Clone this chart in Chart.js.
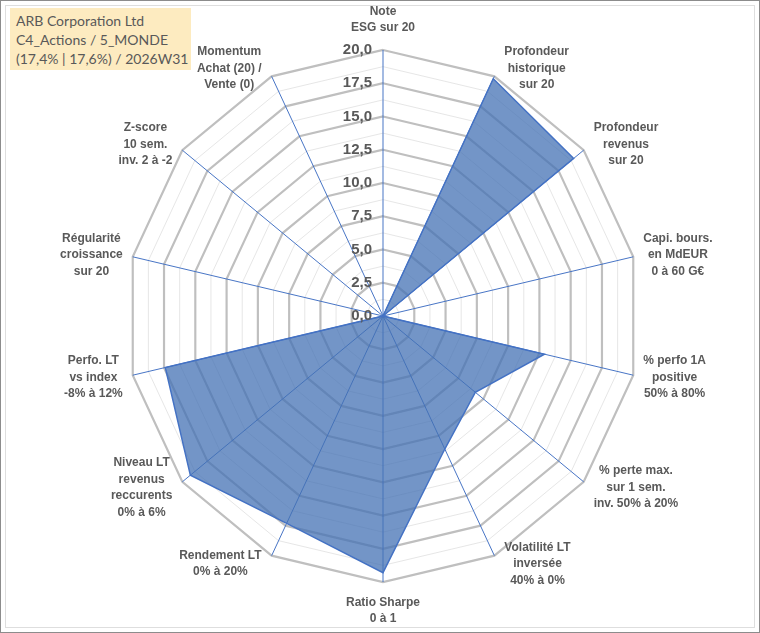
<!doctype html>
<html lang="fr">
<head>
  <meta charset="utf-8">
  <title>ARB Corporation Ltd - radar</title>
  <script src="https://cdn.jsdelivr.net/npm/chart.js"></script>
  <style>
    html, body { margin: 0; padding: 0; background: #fff; }
    #frame {
      position: relative; width: 758px; height: 631px;
      border: 1px solid #8c8c8c; background: #fff;
    }
    #inner {
      position: absolute; left: 4px; top: 4px; right: 4px; bottom: 4px;
      border: 1px solid #dedede;
    }
    #radarChart { position: absolute; left: -1px; top: -1px; }
    #titleBox {
      position: absolute; left: 9px; top: 7px; width: 181px; height: 62px;
      background: #fdebc0; color: #595959;
      font: 14px Lato, sans-serif; line-height: 19px;
      padding: 3px 0 0 6px; box-sizing: border-box; white-space: nowrap;
    }
  </style>
</head>
<body>
  <div id="frame">
    <div id="inner"></div>
    <canvas id="radarChart" width="760" height="633"></canvas>
    <div id="titleBox">ARB Corporation Ltd<br>C4_Actions / 5_MONDE<br>(17,4% | 17,6%) / 2026W31</div>
  </div>

  <script>
    // axes of the radar, clockwise from the top
    const axisLabels = [
      ['Note', 'ESG sur 20'],
      ['Profondeur', 'historique', 'sur 20'],
      ['Profondeur', 'revenus', 'sur 20'],
      ['Capi. bours.', 'en MdEUR', '0 à 60 G€'],
      ['% perfo 1A', 'positive', '50% à 80%'],
      ['% perte max.', 'sur 1 sem.', 'inv. 50% à 20%'],
      ['Volatilité LT', 'inversée', '40% à 0%'],
      ['Ratio Sharpe', '0 à 1'],
      ['Rendement LT', '0% à 20%'],
      ['Niveau LT', 'revenus', 'reccurents', '0% à 6%'],
      ['Perfo. LT', 'vs index', '-8% à 12%'],
      ['Régularité', 'croissance', 'sur 20'],
      ['Z-score', '10 sem.', 'inv. 2 à -2'],
      ['Momentum', 'Achat (20) /', 'Vente (0)']
    ];
    // scores (0..20)
    const scores = [0, 19.8, 19.0, 0, 12.9, 9.2, 11.1, 19.3, 17.3, 19.2, 17.4, 0, 0, 0];
    // labelled rings
    const tickValues = [0, 2.5, 5, 7.5, 10, 12.5, 15, 17.5, 20];

    const isMajor = v => tickValues.includes(v);
    const SQUEEZE_X = 0.965;   // the original radar is a touch narrower than tall
    const FONT = '"Liberation Sans", Arial, sans-serif';

    // squeeze the web + polygon horizontally around the centre
    const squeeze = {
      id: 'squeeze',
      beforeDraw(chart) {
        const r = chart.scales.r;
        const ctx = chart.ctx;
        ctx.save();
        ctx.translate(r.xCenter, 0);
        ctx.scale(SQUEEZE_X, 1);
        ctx.translate(-r.xCenter, 0);
      },
      afterDatasetsDraw(chart) {
        chart.ctx.restore();
      }
    };

    // ring values left of the vertical axis, axis names with centred lines
    const labelsPlugin = {
      id: 'labels',
      afterDatasetsDraw(chart) {
        const r = chart.scales.r;
        const ctx = chart.ctx;
        ctx.save();
        ctx.font = 'bold 15px ' + FONT;
        ctx.fillStyle = '#595959';
        ctx.textAlign = 'right';
        ctx.textBaseline = 'middle';
        tickValues.forEach(v => {
          const y = r.yCenter - r.getDistanceFromCenterForValue(v);
          ctx.fillText(v.toFixed(1).replace('.', ','), r.xCenter - 11, y);
        });

        ctx.font = 'bold 12px ' + FONT;
        ctx.textAlign = 'center';
        const lh = 16.5;
        const n = axisLabels.length;
        axisLabels.forEach((lines, i) => {
          const p = r.getPointPosition(i, r.drawingArea);
          const x = r.xCenter + (p.x - r.xCenter) * SQUEEZE_X;
          const deg = i * 360 / n;
          const w = Math.max(...lines.map(s => ctx.measureText(s).width));
          const h = lines.length * lh;
          let cx, top;
          if (deg === 0) {
            cx = x; top = p.y - 14 - h;
          } else if (deg === 180) {
            cx = x; top = p.y + 12;
          } else {
            const side = deg < 180 ? 1 : -1;
            cx = x + side * (10 + w / 2);
            top = p.y - Math.cos(deg * Math.PI / 180) * 9 - h / 2;
          }
          lines.forEach((s, k) => ctx.fillText(s, cx, top + lh * (k + 0.5)));
        });
        ctx.restore();
      }
    };

    new Chart(document.getElementById('radarChart'), {
      type: 'radar',
      data: {
        labels: axisLabels,
        datasets: [{
          data: scores,
          backgroundColor: 'rgba(68,114,180,0.75)',
          borderColor: '#4472c4',
          borderWidth: 1.5,
          pointRadius: 0,
          fill: true
        }]
      },
      options: {
        responsive: false,
        animation: false,
        layout: { padding: { top: 50, bottom: 51, left: 117, right: 111 } },
        plugins: { legend: { display: false }, tooltip: { enabled: false } },
        scales: {
          r: {
            min: 0,
            max: 20,
            beginAtZero: true,
            ticks: { stepSize: 1.25, display: false },
            grid: {
              circular: false,
              color: c => isMajor(c.tick.value) ? '#bfbfbf' : '#e6e6e6',
              lineWidth: c => isMajor(c.tick.value) ? 2.25 : 1
            },
            angleLines: { color: '#4472c4', lineWidth: 1 },
            pointLabels: { display: false }
          }
        }
      },
      plugins: [squeeze, labelsPlugin]
    });
  </script>
</body>
</html>
